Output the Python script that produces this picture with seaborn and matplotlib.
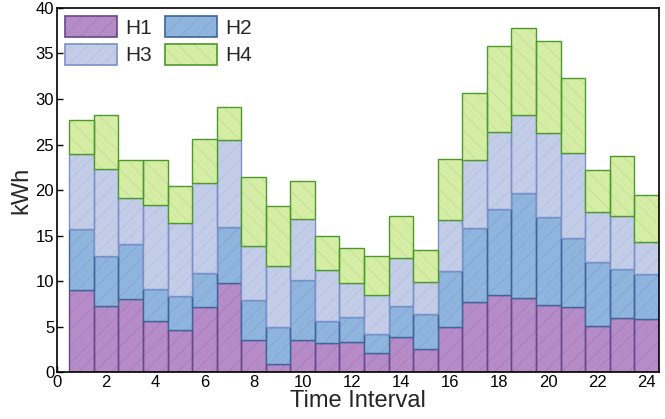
import pandas as pd
import matplotlib
matplotlib.use('Agg')
import matplotlib.pyplot as plt
import seaborn as sns
import numpy as np
from matplotlib.patches import Patch
from matplotlib.legend_handler import HandlerTuple

# energy use per hour, stacked segments per household
hours = list(range(1, 25))
h1 = [9.0, 7.25, 8.0, 5.6, 4.6, 7.1, 9.75, 3.5, 0.9, 3.5, 3.15, 3.3,
      2.05, 3.8, 2.5, 5.0, 7.65, 8.5, 8.1, 7.35, 7.2, 5.1, 5.9, 5.8]
h2 = [6.7, 5.55, 6.1, 3.5, 3.8, 3.8, 6.15, 4.4, 4.0, 6.6, 2.45, 2.7,
      2.15, 3.45, 3.9, 6.1, 8.15, 9.4, 11.6, 9.65, 7.5, 6.95, 5.45, 5.0]
h3 = [8.3, 9.5, 5.0, 9.2, 8.0, 9.9, 9.6, 5.9, 6.8, 6.7, 5.6, 3.8,
      4.3, 5.25, 3.45, 5.6, 7.5, 8.5, 8.5, 9.3, 9.4, 5.55, 5.75, 3.45]
h4 = [3.7, 5.9, 4.2, 5.0, 4.0, 4.8, 3.6, 7.6, 6.5, 4.2, 3.7, 3.8,
      4.2, 4.6, 3.55, 6.7, 7.4, 9.4, 9.6, 10.1, 8.2, 4.6, 6.6, 5.2]

names = ['H1', 'H2', 'H3', 'H4']
faces = ['#b58bc8', '#8fb4de', '#c3cde8', '#d5eda5']
edges = ['#674789', '#3d6598', '#7b90c6', '#4c9a2c']
hatch_cols = ['#a47cb8', '#80a5cf', '#b3bfdf', '#bfdc92']
hatches = ['//', '//', '//', '\\\\']

sns.set_theme(style='ticks')
plt.rcParams['font.family'] = ['Liberation Sans', 'DejaVu Sans']
plt.rcParams['hatch.linewidth'] = 0.5

fig = plt.figure(figsize=(6.65, 4.19), dpi=100)
ax = fig.add_axes([0.0857, 0.112, 0.905, 0.869])

df = pd.DataFrame({'hour': hours, 'H1': h1, 'H2': h2, 'H3': h3, 'H4': h4})
bottom = np.zeros(len(hours))
for i, name in enumerate(names):
    # fill + faint hatch
    sns.barplot(data=df, x='hour', y=name, native_scale=True, width=1,
                errorbar=None, color=faces[i], bottom=bottom, hatch=hatches[i],
                edgecolor=hatch_cols[i], linewidth=0, saturation=1, ax=ax)
    # outline on top
    sns.barplot(data=df, x='hour', y=name, native_scale=True, width=1,
                errorbar=None, color=faces[i], bottom=bottom, fill=False,
                edgecolor=edges[i], linewidth=1.0, ax=ax)
    bottom = bottom + df[name].values

ax.set_xlim(0, 24.5)
ax.set_ylim(0, 40)
ax.set_xticks(range(0, 25, 2))
ax.set_yticks(range(0, 41, 5))
ax.tick_params(direction='in', labelsize=12, length=4, width=1, colors='black', pad=2)
for s in ax.spines.values():
    s.set_visible(True)
    s.set_color('black')
    s.set_linewidth(1.2)
ax.set_xlabel('Time Interval', fontsize=17, labelpad=0)
ax.set_ylabel('kWh', fontsize=17, labelpad=2)

# legend rows: H1 H2 / H3 H4
order = [0, 2, 1, 3]
handles = [(Patch(facecolor=faces[i], edgecolor=hatch_cols[i], hatch=hatches[i], linewidth=0),
            Patch(fill=False, edgecolor=edges[i], linewidth=1.2))
           for i in order]
ax.legend(handles, [names[i] for i in order], ncol=2, loc='upper left', frameon=False,
          prop={'size': 15}, handler_map={tuple: HandlerTuple(ndivide=1, pad=0)},
          handlelength=2.5, handleheight=1.15, handletextpad=0.4,
          columnspacing=0.6, labelspacing=0.3,
          borderaxespad=0.3, borderpad=0.1)

fig.savefig('out.png', dpi=100)
